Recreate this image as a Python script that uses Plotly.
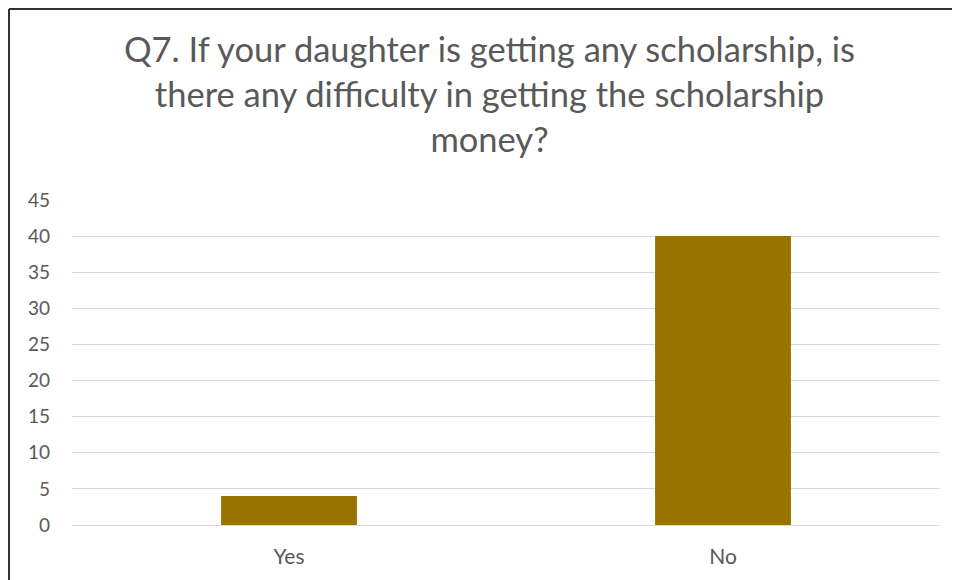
import plotly.graph_objects as go

categories = ["Yes", "No"]
values = [4, 40]
y_ticks = [0, 5, 10, 15, 20, 25, 30, 35, 40, 45]

title_text = ("Q7. If your daughter is getting any scholarship, is<br>"
              "there any difficulty in getting the scholarship<br>money?")

L, R, T, B = 64, 28, 192, 63
W, H = 960, 580
plot_w = W - L - R
plot_h = H - T - B

fig = go.Figure(go.Bar(x=categories, y=values, marker=dict(color="#997300", line=dict(width=0))))

x_left = -(L - 1) / plot_w
y_top = 1 + (T - 1) / plot_h

fig.update_layout(
    width=W, height=H,
    paper_bgcolor="white", plot_bgcolor="white",
    margin=dict(l=L, r=R, t=T, b=B),
    bargap=0.687,
    showlegend=False,
    font=dict(family="Lato, Open Sans, sans-serif", color="#595959"),
    title=dict(text=title_text, x=481.5 / W, xanchor="center", xref="container",
               y=1 - 54 / H, yanchor="middle", yref="container",
               font=dict(size=34.5, color="#595959", family="Lato, sans-serif")),
    xaxis=dict(showgrid=False, showline=False, ticks="", tickfont=dict(size=21, color="#595959"),
               ticklabelstandoff=17),
    yaxis=dict(range=[0, 45], tickvals=y_ticks, showgrid=True, gridcolor="#d9d9d9", gridwidth=1,
               zeroline=True, zerolinecolor="#d9d9d9", zerolinewidth=1, showline=False, ticks="",
               tickfont=dict(size=19, color="#595959"), ticklabelstandoff=21),
    shapes=[
        dict(type="line", xref="paper", yref="paper", x0=x_left, x1=x_left, y0=-1, y1=y_top,
             line=dict(color="#333333", width=2), layer="above"),
        dict(type="line", xref="paper", yref="paper", x0=x_left, x1=1.2, y0=y_top, y1=y_top,
             line=dict(color="#333333", width=2), layer="above"),
    ],
)

fig.write_html("out.html")
